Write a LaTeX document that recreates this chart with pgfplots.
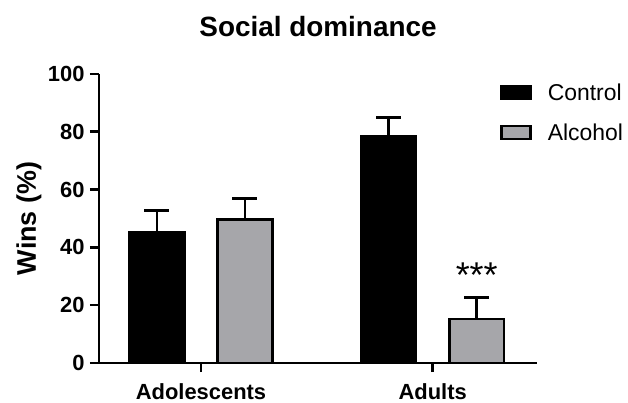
\documentclass[border=0pt]{standalone}
\usepackage{fontspec}
\setmainfont{Liberation Sans}
\usepackage{pgfplots}
\pgfplotsset{compat=1.18}
\definecolor{alcgray}{RGB}{166,166,170}
\pgfplotsset{boxlegend/.style={legend image code/.code={%
    \draw[##1] (0bp,-6.5bp) rectangle (29bp,6.5bp);}}}
\begin{document}
\begin{tikzpicture}
\path[use as bounding box] (0bp,0bp) rectangle (628bp,403bp);
\begin{axis}[
    at={(99bp,40bp)}, anchor=south west,
    scale only axis, width=438bp, height=289bp,
    xmin=-0.44, xmax=1.45, ymin=0, ymax=100,
    axis x line*=bottom, axis y line*=left,
    axis line style={line width=2.6bp, black},
    ybar=33.5bp, bar width=54.5bp,
    xtick={0,1}, xticklabels={Adolescents,Adults},
    ytick={0,20,...,100},
    tick style={line width=2.6bp, black},
    major tick length=9bp, tick align=outside,
    ticklabel style={font=\fontsize{22}{22}\selectfont\bfseries},
    xticklabel style={yshift=-8bp},
    yticklabel style={xshift=-2bp},
    /pgf/number format/assume math mode=true,
    title={Social dominance},
    title style={font=\fontsize{28}{28}\selectfont\bfseries,
        at={(axis description cs:0.5,1)}, anchor=base, yshift=32bp},
    ylabel={Wins (\%)},
    ylabel style={font=\fontsize{27}{27}\selectfont\bfseries,
        at={(axis description cs:0,0.5)}, anchor=center, yshift=70bp},
    legend style={at={(axis description cs:0.9155,0.975)}, anchor=north west,
        draw=none, fill=none, font=\fontsize{23}{23}\selectfont,
        row sep=18bp, column sep=14bp, inner sep=0pt,
        nodes={inner sep=2bp, anchor=west}},
    legend cell align=left,
    clip=false,
]
\addplot[fill=black, draw=black, line width=2.6bp, boxlegend,
    error bars/.cd, y dir=plus, y explicit,
    error bar style={line width=2.6bp, black},
    error mark options={rotate=90, line width=2.6bp, mark size=12.5bp, black}]
    coordinates {(0,45.2) +- (0,7.6) (1,78.4) +- (0,6.5)};
\addlegendentry{Control}
\addplot[fill=alcgray, draw=black, line width=2.6bp, boxlegend,
    error bars/.cd, y dir=plus, y explicit,
    error bar style={line width=2.6bp, black},
    error mark options={rotate=90, line width=2.6bp, mark size=12.5bp, black}]
    coordinates {(0,49.7) +- (0,7.3) (1,15.2) +- (0,7.5)};
\addlegendentry{Alcohol}
\node[font=\fontsize{36}{36}\selectfont, anchor=base, xshift=44bp]
    at (axis cs:1,26) {***};
\end{axis}
\end{tikzpicture}
\end{document}
